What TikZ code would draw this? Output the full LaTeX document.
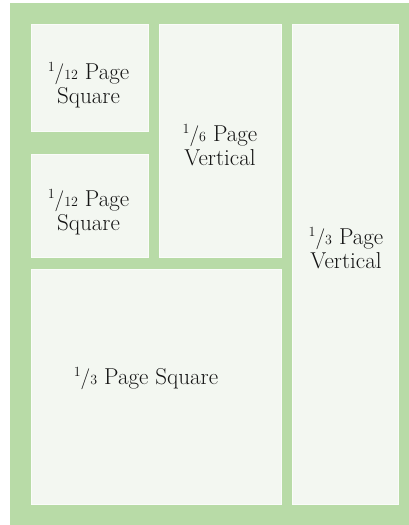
\documentclass[tikz,border=0pt]{standalone}
\usepackage{fontspec}
\definecolor{pagegreen}{HTML}{B8DBA7}
\definecolor{boxfill}{HTML}{F3F7F1}
\definecolor{inktext}{HTML}{141414}
\newcommand{\myfrac}[2]{\raisebox{0.33em}{\fontsize{14}{14}\selectfont #1}{\fontsize{21}{21}\selectfont /}{\fontsize{14}{14}\selectfont #2}}
\begin{document}
\begin{tikzpicture}[x=1pt,y=-1pt,
  adbox/.style={fill=boxfill,draw=white!60!boxfill,line width=0.6pt},
  adlabel/.style={text=inktext,align=center,inner sep=0pt,anchor=base,font=\fontsize{23}{24.5}\selectfont}]
\useasboundingbox (0,0) rectangle (409,525);
\fill[white] (0,0) rectangle (409,525);
\fill[pagegreen] (10,3) rectangle (409,525);
\path[adbox] (31.7,24.3) rectangle (148.3,131.7) coordinate (boxA);
\path[adbox] (31.7,154) rectangle (148.3,257.3) coordinate (boxB);
\path[adbox] (159,24.3) rectangle (281.7,257.3) coordinate (boxC);
\path[adbox] (292.3,24.3) rectangle (398.3,504) coordinate (boxD);
\path[adbox] (31.7,269) rectangle (281.7,504) coordinate (boxE);
\node[adlabel] (labA) at (88.5,103.5) {\myfrac{1}{12} Page\\Square};
\node[adlabel] (labB) at (88.5,230.5) {\myfrac{1}{12} Page\\Square};
\node[adlabel] (labC) at (220,165.5) {\myfrac{1}{6} Page\\Vertical};
\node[adlabel] (labD) at (346,268.5) {\myfrac{1}{3} Page\\Vertical};
\node[adlabel] (labE) at (146,384.3) {\myfrac{1}{3} Page Square};
\end{tikzpicture}
\end{document}
